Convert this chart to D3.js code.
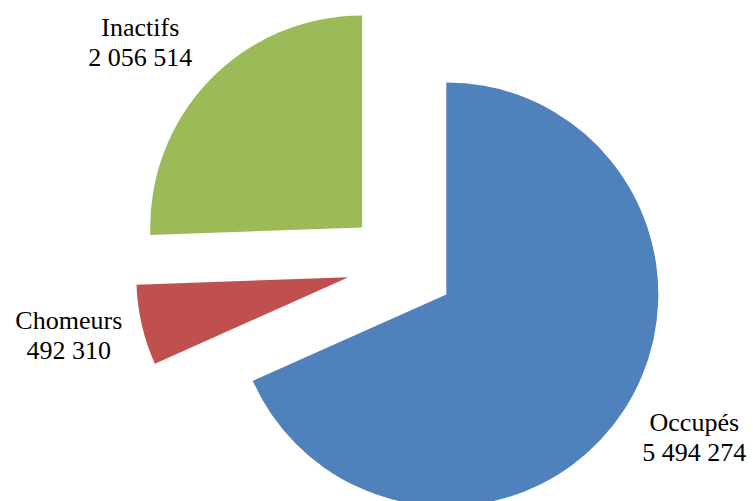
<!DOCTYPE html>
<html>
  <head>
    <meta charset="utf-8">
    <script src="https://d3js.org/d3.v7.min.js"></script>
    <style>
      body { margin: 0; background: #fff; }
      text.label { font-family: "Liberation Serif", "Times New Roman", Times, "DejaVu Serif", serif; }
    </style>
  </head>
  <body>
    <svg id="chart"></svg>
<script>
// ---------------------------
// Data
// ---------------------------
var categories = ["Occupés", "Chomeurs", "Inactifs"];
var values = [5494274, 492310, 2056514];
var valueLabels = ["5 494 274", "492 310", "2 056 514"];
var colours = ["#4F81BD", "#C0504D", "#9BBB59"];

// ---------------------------
// Constants
// ---------------------------
var canvasWidth = 753;
var canvasHeight = 501;
var centerX = 401;
var centerY = 265;
var radius = 212;
var explode = 54;
var labelRadius = 340;
var fontSize = 26;
var lineGap = 30;
// small hand nudges, like Excel's "best fit" labels
var labelNudge = { "Occupés": [8, -13], "Chomeurs": [-1, -7], "Inactifs": [-16, 13] };

var svg = d3.select("#chart")
  .attr("width", canvasWidth)
  .attr("height", canvasHeight);

var pie = d3.pie().sort(null).value(function(d) { return d; });
var arc = d3.arc().innerRadius(0).outerRadius(radius);
var slices = pie(values);

function midDir(d) {
  var a = (d.startAngle + d.endAngle) / 2;
  return [Math.sin(a), -Math.cos(a)];
}

var g = svg.append("g")
  .attr("transform", "translate(" + centerX + "," + centerY + ")");

// pie slices, each pulled out along its middle angle
g.selectAll("path")
  .data(slices)
  .enter()
  .append("path")
  .attr("d", arc)
  .attr("transform", function(d) {
    var v = midDir(d);
    return "translate(" + (v[0] * explode) + "," + (v[1] * explode) + ")";
  })
  .style("fill", function(d, i) { return colours[i]; });

// labels: name on first line, value on second
var labels = g.selectAll("text.label")
  .data(slices)
  .enter()
  .append("text")
  .attr("class", "label")
  .attr("text-anchor", "middle")
  .style("font-size", fontSize + "px")
  .attr("fill", "#000")
  .attr("transform", function(d, i) {
    var v = midDir(d);
    var n = labelNudge[categories[i]];
    var x = v[0] * labelRadius + n[0];
    var y = v[1] * labelRadius + n[1];
    return "translate(" + x + "," + y + ")";
  });

labels.append("tspan")
  .attr("x", 0)
  .attr("y", -6)
  .text(function(d, i) { return categories[i]; });

labels.append("tspan")
  .attr("x", 0)
  .attr("y", -6 + lineGap)
  .text(function(d, i) { return valueLabels[i]; });
</script>
  </body>
</html>
